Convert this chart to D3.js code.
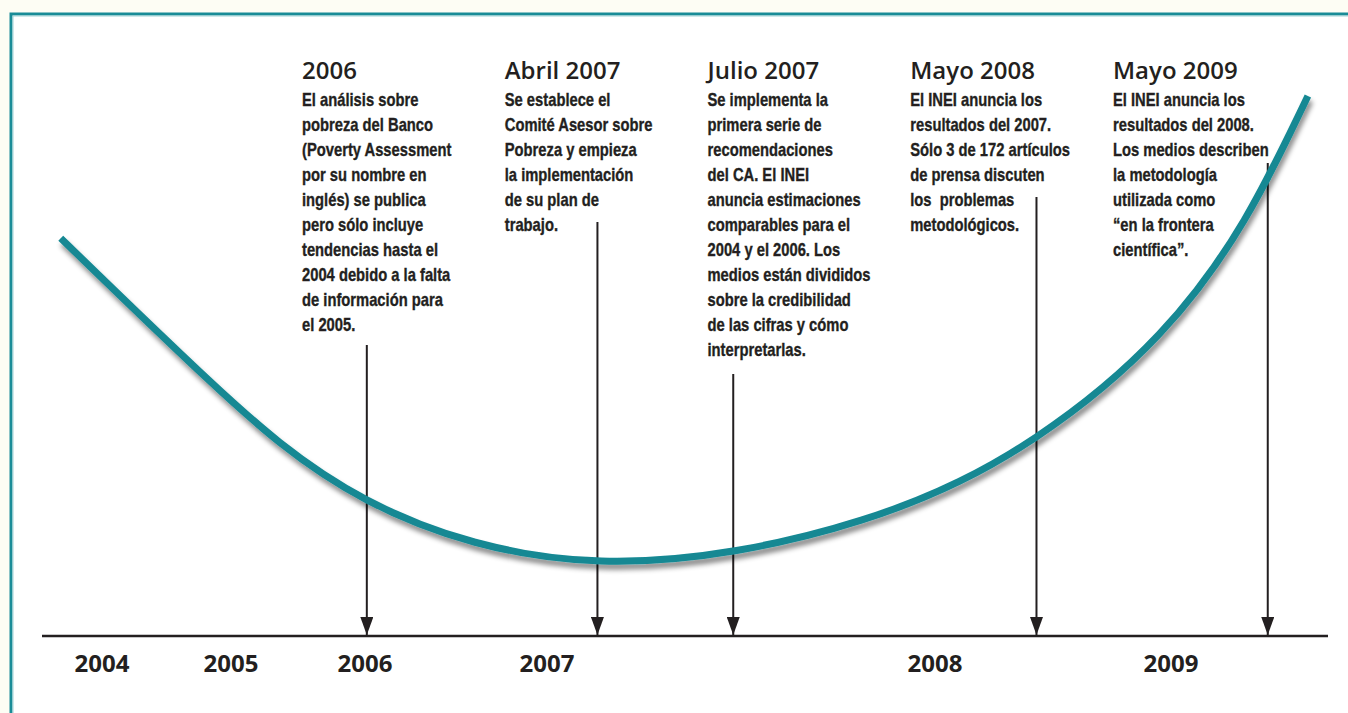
<!DOCTYPE html>
<meta charset="utf-8">
<style>
  body { margin: 0; background: #fdfdf4; }
  .year { font: 700 24px "Open Sans", sans-serif; fill: #231f20; text-anchor: middle; }
  .title { font: 600 24px "Open Sans", sans-serif; fill: #231f20; }
  .body { font: 700 18px "Liberation Sans", Arial, sans-serif; fill: #231f20; stroke: #231f20; stroke-width: 0.35px; white-space: pre; }
</style>
<svg width="1348" height="713"></svg>
<script src="https://d3js.org/d3.v7.min.js"></script>
<script>

  // timeline ticks
  var yearTicks = [2004, 2005, 2006, 2007, 2008, 2009];

  // the curve (time in years, level 0-100)
  var curveYears  = [2003.68, 2004.80, 2006.01, 2007.14, 2007.81, 2008.43, 2008.95, 2009.31, 2009.58];
  var curveLevels = [66.3, 43.2, 22.7, 12.5, 19.3, 33.2, 50.3, 69.3, 90];

  // events
  var eventDates  = [2006.01, 2007.13, 2007.48, 2008.43, 2009.41];
  var eventTitles = ["2006", "Abril 2007", "Julio 2007", "Mayo 2008", "Mayo 2009"];
  var eventLines = [
    ["El análisis sobre", "pobreza del Banco", "(Poverty Assessment", "por su nombre en", "inglés) se publica",
     "pero sólo incluye", "tendencias hasta el", "2004 debido a la falta", "de información para", "el 2005."],
    ["Se establece el", "Comité Asesor sobre", "Pobreza y empieza", "la implementación", "de su plan de", "trabajo."],
    ["Se implementa la", "primera serie de", "recomendaciones", "del CA. El INEI", "anuncia estimaciones",
     "comparables para el", "2004 y el 2006. Los", "medios están divididos", "sobre la credibilidad",
     "de las cifras y cómo", "interpretarlas."],
    ["El INEI anuncia los", "resultados del 2007.", "Sólo 3 de 172 artículos", "de prensa discuten",
     "los  problemas", "metodológicos."],
    ["El INEI anuncia los", "resultados del 2008.", "Los medios describen", "la metodología",
     "utilizada como", "“en la frontera", "científica”."]
  ];

  // layout
  var tickPx = [102, 231, 365, 547, 935, 1171],
      axisY = 636,
      colLeft = 302, colStep = 202.75,
      titleY = 79, bodyY = 106, lineH = 25,
      narrow = 0.82,
      arrowTop = [345, 222, 374, 197, 163];

  var svg = d3.select("svg");

  var x = d3.scaleLinear().domain(yearTicks).range(tickPx);
  var y = d3.scaleLinear().domain([0, 100]).range([axisY, 36]);

  var defs = svg.append("defs");
  defs.append("filter").attr("id", "shadow")
      .attr("x", "-10%").attr("y", "-10%").attr("width", "120%").attr("height", "130%")
    .append("feDropShadow")
      .attr("dx", 2).attr("dy", 5).attr("stdDeviation", 2.5)
      .attr("flood-color", "#000").attr("flood-opacity", 0.45);
  defs.append("marker").attr("id", "head")
      .attr("viewBox", "0 0 18 13").attr("refX", 18).attr("refY", 6.5)
      .attr("markerWidth", 18).attr("markerHeight", 13)
      .attr("markerUnits", "userSpaceOnUse").attr("orient", "auto")
    .append("path").attr("d", "M0,0L18,6.5L0,13Z").attr("fill", "#231f20");

  // frame
  svg.append("rect").attr("x", 11).attr("y", 14).attr("width", 1400).attr("height", 800)
      .attr("fill", "#fff").attr("stroke", "#1a8c97").attr("stroke-width", 3);
  svg.append("rect").attr("x", 13).attr("y", 16).attr("width", 1400).attr("height", 800)
      .attr("fill", "none").attr("stroke", "#9fd3d6").attr("stroke-width", 1);

  // axis
  svg.append("line").attr("x1", 42).attr("x2", 1328).attr("y1", axisY).attr("y2", axisY)
      .attr("stroke", "#231f20").attr("stroke-width", 2.5);

  svg.selectAll("text.year").data(yearTicks).enter().append("text")
      .attr("class", "year")
      .attr("x", function(d) { return x(d); })
      .attr("y", 672)
      .text(function(d) { return d; });

  // arrows
  svg.selectAll("line.arrow").data(eventDates).enter().append("line")
      .attr("class", "arrow")
      .attr("x1", function(d) { return x(d); })
      .attr("x2", function(d) { return x(d); })
      .attr("y1", function(d, i) { return arrowTop[i]; })
      .attr("y2", axisY - 1)
      .attr("stroke", "#231f20").attr("stroke-width", 2)
      .attr("marker-end", "url(#head)");

  // curve
  var pts = curveYears.map(function(d, i) { return [d, curveLevels[i]]; });
  var line = d3.line()
      .x(function(d) { return x(d[0]); })
      .y(function(d) { return y(d[1]); })
      .curve(d3.curveNatural);

  svg.append("path").datum(pts)
      .attr("d", line)
      .attr("fill", "none")
      .attr("stroke", "#148893")
      .attr("stroke-width", 7)
      .attr("filter", "url(#shadow)");

  // texts
  var g = svg.selectAll("g.event").data(eventTitles).enter().append("g")
      .attr("class", "event")
      .attr("transform", function(d, i) { return "translate(" + (colLeft + i * colStep) + ",0)"; });

  g.append("text").attr("class", "title").attr("y", titleY).text(function(d) { return d; });

  g.each(function(d, i) {
    d3.select(this).selectAll("text.body").data(eventLines[i]).enter().append("text")
        .attr("class", "body")
        .attr("transform", function(t, j) { return "translate(0," + (bodyY + j * lineH) + ") scale(" + narrow + ",1)"; })
        .text(function(t) { return t; });
  });

</script>
